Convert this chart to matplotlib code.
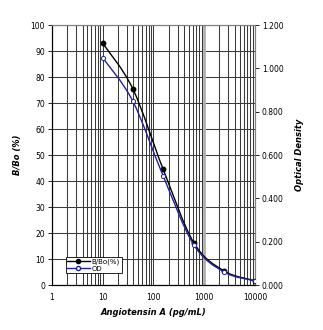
import numpy as np
import matplotlib.pyplot as plt
from matplotlib.path import Path
from matplotlib.patches import PathPatch
from matplotlib.lines import Line2D
from matplotlib.ticker import LogLocator, NullFormatter

# standard curve data
conc = [10, 39, 156, 625, 2500, 10000]
bbo = [93.0, 75.6, 44.5, 16.3, 5.4, 1.7]
od = [1.049, 0.850, 0.503, 0.186, 0.060, 0.020]

yticks_left = [0, 10, 20, 30, 40, 50, 60, 70, 80, 90, 100]
yticks_right = [0.0, 0.2, 0.4, 0.6, 0.8, 1.0, 1.2]
xticks = [1, 10, 100, 1000, 10000]


# smooth line through the points (catmull-rom -> bezier, in log-x space)
def smooth_path(xs, ys):
    lx = np.log10(xs)
    ys = np.asarray(ys, dtype=float)
    verts = [(xs[0], ys[0])]
    codes = [Path.MOVETO]
    n = len(lx)
    for i in range(n - 1):
        x0, y0 = (lx[i - 1], ys[i - 1]) if i > 0 else (lx[i], ys[i])
        x1, y1 = lx[i], ys[i]
        x2, y2 = lx[i + 1], ys[i + 1]
        x3, y3 = (lx[i + 2], ys[i + 2]) if i + 2 < n else (x2, y2)
        c1 = (x1 + (x2 - x0) / 6, y1 + (y2 - y0) / 6)
        c2 = (x2 - (x3 - x1) / 6, y2 - (y3 - y1) / 6)
        verts += [(10 ** c1[0], c1[1]), (10 ** c2[0], c2[1]), (10 ** x2, y2)]
        codes += [Path.CURVE4] * 3
    return Path(verts, codes)


fig = plt.figure(figsize=(3.23, 3.3), dpi=100)
ax = fig.add_axes([0.161, 0.136, 0.628, 0.788])
ax.set_xscale('log')
ax2 = ax.twinx()

ax.set_xlim(1, 10000)
ax.set_ylim(0, 100)
ax2.set_ylim(0, 1.2)

ax.set_xticks(xticks)
ax.xaxis.set_minor_locator(LogLocator(base=10, subs=np.arange(2, 10), numticks=20))
ax.xaxis.set_minor_formatter(NullFormatter())

gc = '#3a3a3a'
ax.xaxis.grid(True, which='major', color=gc, lw=0.75)
ax.xaxis.grid(True, which='minor', color=gc, lw=0.75)
ax.yaxis.grid(True, which='major', color=gc, lw=0.75)
ax.axvline(1000, color='#b0b0b0', lw=2.0, zorder=2)

blue = '#22229a'
ax2.add_patch(PathPatch(smooth_path(conc, od), fill=False, ec=blue, lw=1.0, zorder=3))
ax2.plot(conc, od, ls='none', marker='o', ms=3, mfc='white', mec=blue, mew=0.7, zorder=4)
ax.add_patch(PathPatch(smooth_path(conc, bbo), fill=False, ec='black', lw=1.0, zorder=3))
ax.plot(conc, bbo, ls='none', marker='o', ms=3.2, color='black', zorder=4)

fs = 5.5
ax.set_yticks(yticks_left)
ax.set_yticklabels([str(v) for v in yticks_left], fontsize=fs)
ax2.set_yticks(yticks_right)
ax2.set_yticklabels(['%.3f' % v for v in yticks_right], fontsize=fs)
ax.set_xticklabels([str(v) for v in xticks], fontsize=fs)
ax.tick_params(axis='x', which='both', length=0, pad=6)
ax.tick_params(axis='y', length=3, width=0.6, pad=2)
ax2.tick_params(axis='y', length=3, width=0.6, pad=2)

for a in (ax, ax2):
    for s in a.spines.values():
        s.set_color('#808080')
        s.set_linewidth(0.8)
    a.spines['left'].set_color('black')
    a.spines['bottom'].set_color('black')

ax.set_xlabel('Angiotensin A (pg/mL)', fontsize=6, style='italic', fontweight='bold', labelpad=4)
ax.set_ylabel('B/Bo (%)', fontsize=6, style='italic', fontweight='bold', labelpad=6)
ax2.set_ylabel('Optical Density', fontsize=6, style='italic', fontweight='bold', labelpad=8, rotation=90)

handles = [Line2D([], [], color='black', marker='o', ms=3, lw=1),
           Line2D([], [], color=blue, marker='o', ms=3, mfc='white', mec=blue, lw=1)]
leg = ax.legend(handles, ['B/Bo(%)', 'OD'], loc='lower left', bbox_to_anchor=(0.06, 0.04),
                fontsize=5, frameon=True, fancybox=False, framealpha=1, edgecolor='black',
                handlelength=3.2, borderpad=0.25, labelspacing=0.1, handletextpad=0.3,
                borderaxespad=0.2)
leg.get_frame().set_linewidth(0.6)
leg.set_zorder(5)

fig.savefig('out.png', dpi=100)
